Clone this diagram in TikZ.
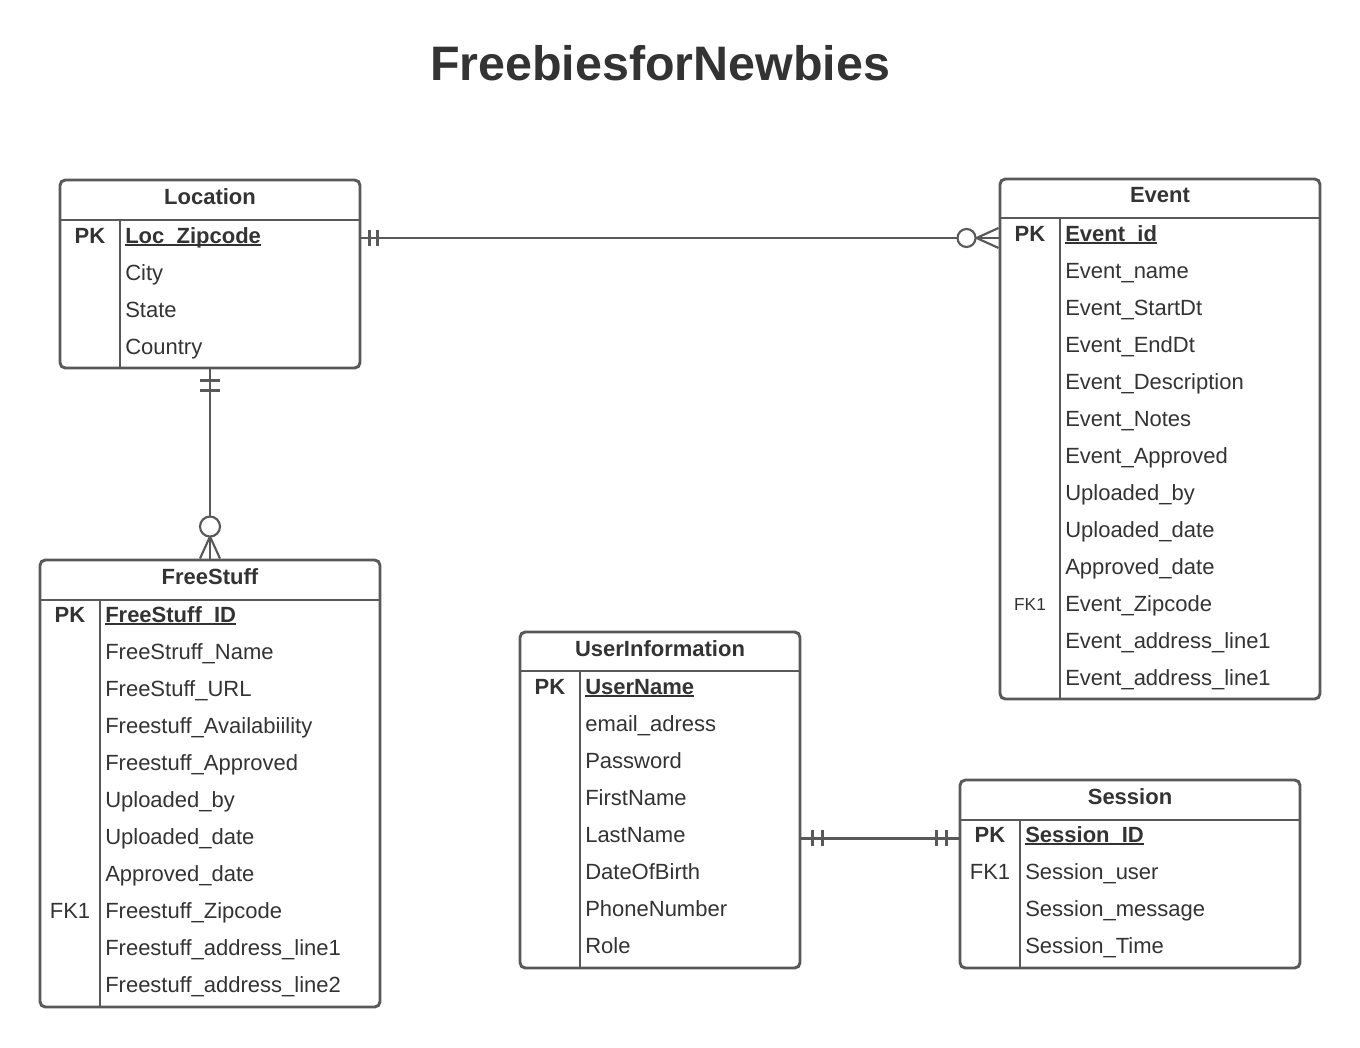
\documentclass[tikz,border=0pt]{standalone}
\usepackage{fontspec}
\setmainfont{Liberation Sans}
\usetikzlibrary{fit,calc}
\definecolor{erline}{HTML}{595959}
\definecolor{ertext}{HTML}{333333}
\newcommand{\keyfield}[1]{\setbox0\hbox{\bfseries #1}\rlap{\rule[-2.4pt]{\wd0}{1.4pt}}\box0}
\tikzset{
  tbl/.style={draw=erline, line width=2.2pt, rounded corners=4pt, inner sep=0pt},
  sep/.style={draw=erline, line width=2pt},
  hdr/.style={anchor=base, font=\fontsize{16.5}{18}\selectfont\bfseries, text=ertext, inner sep=0pt},
  fld/.style={anchor=base west, font=\fontsize{16.5}{18}\selectfont, text=ertext, inner sep=0pt},
  tag/.style={anchor=base, font=\fontsize{16.5}{18}\selectfont, text=ertext, inner sep=0pt},
  rel/.style={draw=erline, line width=1.6pt},
}
\begin{document}
\begin{tikzpicture}[x=0.75pt,y=-0.75pt]
\useasboundingbox (0,0) rectangle (1360,1047);
\node[font=\fontsize{36.3}{40}\selectfont\bfseries, text=ertext] (title) at (660,63) {FreebiesforNewbies};

% Location
\node[tbl, fit={(60,180) (360,368)}] (loc) {};
\draw[sep] (loc.west |- 0,220) -- (loc.east |- 0,220);
\draw[sep] (120,220) -- (120,220 |- loc.south);
\node[hdr] (loc-h) at (210,204) {Location};
\node[tag, font=\fontsize{16.5}{18}\selectfont\bfseries] (loc-pk) at (90,243) {PK};
\node[fld] (loc1) at (125,243) {\keyfield{Loc\_Zipcode}};
\node[fld] (loc2) at (125,280) {City};
\node[fld] (loc3) at (125,317) {State};
\node[fld] (loc4) at (125,354) {Country};

% Event
\node[tbl, fit={(1000,179) (1320,699)}] (evt) {};
\draw[sep] (evt.west |- 0,218) -- (evt.east |- 0,218);
\draw[sep] (1060,218) -- (1060,218 |- evt.south);
\node[hdr] (evt-h) at (1160,202) {Event};
\node[tag, font=\fontsize{16.5}{18}\selectfont\bfseries] (evt-pk) at (1030,241) {PK};
\node[tag, font=\fontsize{13}{15}\selectfont] (evt-fk) at (1030,610) {FK1};
\node[fld] (evt1) at (1065,241) {\keyfield{Event\_id}};
\node[fld] (evt2) at (1065,278) {Event\_name};
\node[fld] (evt3) at (1065,315) {Event\_StartDt};
\node[fld] (evt4) at (1065,352) {Event\_EndDt};
\node[fld] (evt5) at (1065,389) {Event\_Description};
\node[fld] (evt6) at (1065,426) {Event\_Notes};
\node[fld] (evt7) at (1065,463) {Event\_Approved};
\node[fld] (evt8) at (1065,500) {Uploaded\_by};
\node[fld] (evt9) at (1065,537) {Uploaded\_date};
\node[fld] (evt10) at (1065,574) {Approved\_date};
\node[fld] (evt11) at (1065,611) {Event\_Zipcode};
\node[fld] (evt12) at (1065,648) {Event\_address\_line1};
\node[fld] (evt13) at (1065,685) {Event\_address\_line1};

% FreeStuff
\node[tbl, fit={(40,560) (380,1007)}] (fs) {};
\draw[sep] (fs.west |- 0,600) -- (fs.east |- 0,600);
\draw[sep] (100,600) -- (100,600 |- fs.south);
\node[hdr] (fs-h) at (210,584) {FreeStuff};
\node[tag, font=\fontsize{16.5}{18}\selectfont\bfseries] (fs-pk) at (70,622) {PK};
\node[tag] (fs-fk) at (70,918) {FK1};
\node[fld] (fs1) at (105,622) {\keyfield{FreeStuff\_ID}};
\node[fld] (fs2) at (105,659) {FreeStruff\_Name};
\node[fld] (fs3) at (105,696) {FreeStuff\_URL};
\node[fld] (fs4) at (105,733) {Freestuff\_Availabiility};
\node[fld] (fs5) at (105,770) {Freestuff\_Approved};
\node[fld] (fs6) at (105,807) {Uploaded\_by};
\node[fld] (fs7) at (105,844) {Uploaded\_date};
\node[fld] (fs8) at (105,881) {Approved\_date};
\node[fld] (fs9) at (105,918) {Freestuff\_Zipcode};
\node[fld] (fs10) at (105,955) {Freestuff\_address\_line1};
\node[fld] (fs11) at (105,992) {Freestuff\_address\_line2};

% UserInformation
\node[tbl, fit={(520,632) (800,968)}] (usr) {};
\draw[sep] (usr.west |- 0,671) -- (usr.east |- 0,671);
\draw[sep] (580,671) -- (580,671 |- usr.south);
\node[hdr] (usr-h) at (660,656) {UserInformation};
\node[tag, font=\fontsize{16.5}{18}\selectfont\bfseries] (usr-pk) at (550,694) {PK};
\node[fld] (usr1) at (585,694) {\keyfield{UserName}};
\node[fld] (usr2) at (585,731) {email\_adress};
\node[fld] (usr3) at (585,768) {Password};
\node[fld] (usr4) at (585,805) {FirstName};
\node[fld] (usr5) at (585,842) {LastName};
\node[fld] (usr6) at (585,879) {DateOfBirth};
\node[fld] (usr7) at (585,916) {PhoneNumber};
\node[fld] (usr8) at (585,953) {Role};

% Session
\node[tbl, fit={(960,780) (1300,968)}] (ses) {};
\draw[sep] (ses.west |- 0,820) -- (ses.east |- 0,820);
\draw[sep] (1020,820) -- (1020,820 |- ses.south);
\node[hdr] (ses-h) at (1130,804) {Session};
\node[tag, font=\fontsize{16.5}{18}\selectfont\bfseries] (ses-pk) at (990,842) {PK};
\node[tag] (ses-fk) at (990,879) {FK1};
\node[fld] (ses1) at (1025,842) {\keyfield{Session\_ID}};
\node[fld] (ses2) at (1025,879) {Session\_user};
\node[fld] (ses3) at (1025,916) {Session\_message};
\node[fld] (ses4) at (1025,953) {Session\_Time};

% Location -- Event
\coordinate (le1) at ($(loc.east |- loc1.mid)+(0,-1.5)$);
\coordinate (le2) at ($(evt.west |- loc1.mid)+(0,-1.5)$);
\draw[rel] (le1) -- (le2);
\draw[rel] ($(le1)+(8,-8)$) -- ($(le1)+(8,8)$) ($(le1)+(16,-8)$) -- ($(le1)+(16,8)$);
\draw[rel] ($(le2)+(-22,0)$) -- ($(le2)+(0,-10)$) ($(le2)+(-22,0)$) -- ($(le2)+(0,10)$);
\draw[rel, fill=white] ($(le2)+(-32,0)$) circle[radius=9];

% Location -- FreeStuff
\coordinate (lf1) at (loc.south);
\coordinate (lf2) at (fs.north);
\draw[rel] (lf1) -- (lf2);
\draw[rel] ($(lf1)+(-10,11)$) -- ($(lf1)+(10,11)$) ($(lf1)+(-10,21)$) -- ($(lf1)+(10,21)$);
\draw[rel] ($(lf2)+(0,-22)$) -- ($(lf2)+(-10,0)$) ($(lf2)+(0,-22)$) -- ($(lf2)+(10,0)$);
\draw[rel, fill=white] ($(lf2)+(0,-32)$) circle[radius=10];

% UserInformation -- Session
\coordinate (us1) at (usr.east |- ses1.mid);
\coordinate (us2) at (ses.west |- ses1.mid);
\draw[rel] (us1) -- (us2);
\draw[rel] ($(us1)+(11,-8)$) -- ($(us1)+(11,8)$) ($(us1)+(21,-8)$) -- ($(us1)+(21,8)$);
\draw[rel] ($(us2)+(-12,-8)$) -- ($(us2)+(-12,8)$) ($(us2)+(-22,-8)$) -- ($(us2)+(-22,8)$);
\end{tikzpicture}
\end{document}
